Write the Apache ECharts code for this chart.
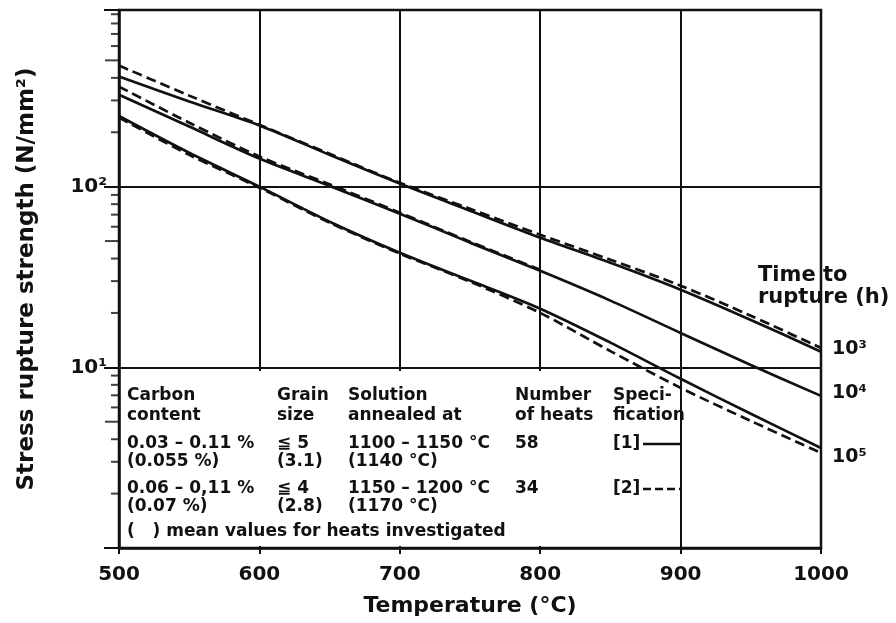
<!DOCTYPE html>
<html>
<head>
<meta charset="utf-8">
<title>Stress rupture strength</title>
<script src="https://cdn.jsdelivr.net/npm/echarts@6/dist/echarts.min.js"></script>
<style>
  html, body { margin: 0; padding: 0; background: #fff; }
  #chart { width: 896px; height: 623px; }
</style>
</head>
<body>
<div id="chart"></div>
<script>
// temperatures (°C) where the curves were read
const temps = [500, 550, 600, 650, 700, 750, 800, 850, 900, 950, 1000]

// stress rupture strength (N/mm²), [1] = solid, [2] = dashed
const solid1e3 = [407, 296, 218, 150, 104, 73.6, 52.2, 37.9, 26.9, 18.3, 12.2]
const dashed1e3 = [468, 319, 220, 152, 105, 75.5, 54.2, 39.4, 28.3, 19.3, 12.8]
const solid1e4 = [323, 215, 143, 101, 70.9, 49.0, 34.2, 23.4, 15.5, 10.3, 6.95]
const dashed1e4 = [358, 226, 147, 103, 71.8, 49.6, 34.7]
const solid1e5 = [246, 154, 100, 64.0, 43.1, 30.2, 21.1, 13.7, 8.64, 5.53, 3.58]
const dashed1e5 = [241, 150, 98.7, 63.2, 42.6, 29.8, 20.0, 12.3, 7.70, 5.05, 3.36]

// time to rupture labels at the right end of the curves
const ruptureLabels = ['10³', '10⁴', '10⁵']

// log axis ticks between the decades
const minorTicks = [2, 3, 4, 6, 7, 8, 9, 20, 30, 40, 60, 70, 80, 90, 200, 300, 400, 600, 700, 800, 900]
const midTicks = [5, 50, 500]
const yLabels = { 10: '10¹', 100: '10²' }

// legend table text
const tableCols = [127, 277, 348, 515, 613]
const tableRows = [
  ['Carbon', 'Grain', 'Solution', 'Number', 'Speci-'],
  ['content', 'size', 'annealed at', 'of heats', 'fication'],
  ['0.03 – 0.11 %', '≦ 5', '1100 – 1150 °C', '58', '[1]'],
  ['(0.055 %)', '(3.1)', '(1140 °C)', '', ''],
  ['0.06 – 0,11 %', '≦ 4', '1150 – 1200 °C', '34', '[2]'],
  ['(0.07 %)', '(2.8)', '(1170 °C)', '', '']
]
const tableRowY = [396, 416, 444, 462, 489, 507]
const tableNote = '(   ) mean values for heats investigated'

const FONT = '"DejaVu Sans", sans-serif'
const INK = '#111'

const pairs = vals => vals.map((v, i) => [temps[i], v])

function curve(name, vals, dashed, labelIdx, labelOffset) {
  const s = {
    type: 'line',
    name: name,
    data: pairs(vals),
    smooth: 0.3,
    symbol: 'none',
    z: 4,
    lineStyle: {
      color: INK,
      width: 2.7,
      type: dashed ? [10, 5] : 'solid'
    }
  }
  if (labelIdx != null) {
    s.endLabel = {
      show: true,
      formatter: ruptureLabels[labelIdx],
      distance: 11,
      offset: labelOffset,
      color: INK,
      fontFamily: FONT,
      fontWeight: 'bold',
      fontSize: 19
    }
  }
  return s
}

const tableFont = 'bold 17px ' + FONT

const graphics = [
  {
    type: 'rect',
    shape: { x: 121, y: 371, width: 557, height: 175 },
    style: { fill: '#fff' },
    z: 1
  },
  {
    type: 'text',
    left: 758,
    top: 265,
    z: 5,
    style: {
      text: 'Time to\nrupture (h)',
      fill: INK,
      font: 'bold 21px ' + FONT,
      lineHeight: 22
    }
  },
  {
    type: 'line',
    z: 5,
    shape: { x1: 643, y1: 444, x2: 680, y2: 444 },
    style: { stroke: INK, lineWidth: 2.5 }
  },
  {
    type: 'line',
    z: 5,
    shape: { x1: 643, y1: 489, x2: 680, y2: 489 },
    style: { stroke: INK, lineWidth: 2.5, lineDash: [8, 4] }
  },
  {
    type: 'text',
    x: 127,
    y: 532,
    z: 5,
    style: {
      text: tableNote,
      fill: INK,
      font: tableFont,
      verticalAlign: 'middle'
    }
  }
]
tableRows.forEach((row, r) => {
  row.forEach((txt, c) => {
    if (!txt) return
    graphics.push({
      type: 'text',
      x: tableCols[c],
      y: tableRowY[r],
      z: 5,
      style: {
        text: txt,
        fill: INK,
        font: tableFont,
        verticalAlign: 'middle'
      }
    })
  })
})

const chart = echarts.init(document.getElementById('chart'), null, { renderer: 'canvas' })
chart.setOption({
  backgroundColor: '#fff',
  animation: false,
  textStyle: { fontFamily: FONT, color: INK },
  grid: {
    left: 119,
    right: 75,
    top: 10,
    bottom: 75,
    show: true,
    borderColor: INK,
    borderWidth: 2.5,
    backgroundColor: 'transparent'
  },
  xAxis: {
    type: 'value',
    min: 500,
    max: 1000,
    interval: 100,
    name: 'Temperature (°C)',
    nameLocation: 'middle',
    nameGap: 47,
    nameTextStyle: { fontFamily: FONT, fontWeight: 'bold', fontSize: 22, color: INK },
    axisLine: { lineStyle: { color: INK, width: 2.5 } },
    axisTick: { length: 6, lineStyle: { color: INK, width: 2 } },
    axisLabel: {
      margin: 17,
      fontFamily: FONT,
      fontWeight: 'bold',
      fontSize: 20,
      color: INK,
      formatter: v => String(v)
    },
    splitLine: { lineStyle: { color: INK, width: 2 } }
  },
  yAxis: {
    type: 'log',
    min: 1,
    max: 950,
    name: 'Stress rupture strength (N/mm²)',
    nameLocation: 'middle',
    nameGap: 80,
    nameTextStyle: { fontFamily: FONT, fontWeight: 'bold', fontSize: 23, color: INK },
    axisLine: { lineStyle: { color: INK, width: 2.5 } },
    axisTick: { length: 15, lineStyle: { color: INK, width: 2 } },
    axisLabel: {
      margin: 12,
      fontFamily: FONT,
      fontWeight: 'bold',
      fontSize: 20,
      color: INK,
      formatter: v => yLabels[Math.round(v)] || ''
    },
    splitLine: { lineStyle: { color: INK, width: 2 } }
  },
  graphic: graphics,
  series: [
    curve('[1] 10³ h', solid1e3, false, 0, [0, -3]),
    curve('[2] 10³ h', dashed1e3, true),
    curve('[1] 10⁴ h', solid1e4, false, 1, [0, -3]),
    curve('[2] 10⁴ h', dashed1e4, true),
    curve('[1] 10⁵ h', solid1e5, false, 2, [0, 9]),
    curve('[2] 10⁵ h', dashed1e5, true),
    {
      type: 'scatter',
      name: 'minor ticks',
      data: minorTicks.map(v => [500, v]),
      symbol: 'rect',
      symbolSize: [8, 2],
      symbolOffset: [-4, 0],
      clip: false,
      silent: true,
      itemStyle: { color: INK }
    },
    {
      type: 'scatter',
      name: 'mid ticks',
      data: midTicks.map(v => [500, v]),
      symbol: 'rect',
      symbolSize: [14, 2],
      symbolOffset: [-7, 0],
      clip: false,
      silent: true,
      itemStyle: { color: INK }
    }
  ]
})
</script>
</body>
</html>
